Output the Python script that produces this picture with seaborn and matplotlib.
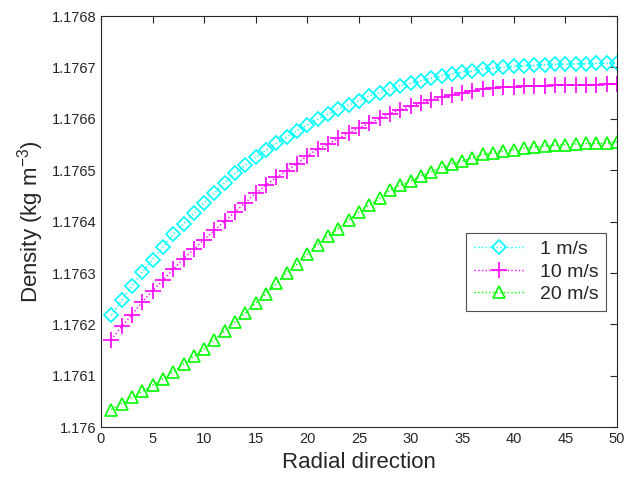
import numpy as np
import pandas as pd
import matplotlib
matplotlib.use("Agg")
import matplotlib.pyplot as plt
import seaborn as sns
from matplotlib.ticker import FuncFormatter

# ================================================
# DATA
# ================================================
radial = list(range(1, 51))

rho_1ms = [0.0002177, 0.000247, 0.000274, 0.000302, 0.000326, 0.000351, 0.000375, 0.000396, 0.000416, 0.000437,
           0.000456, 0.000476, 0.000494, 0.000510, 0.000525, 0.000539, 0.000552, 0.000565, 0.000577, 0.000588,
           0.000599, 0.000609, 0.000619, 0.000627, 0.000635, 0.000645, 0.000651, 0.000658, 0.000664, 0.000669,
           0.000674, 0.000679, 0.000684, 0.000687, 0.000691, 0.000693, 0.000697, 0.000698, 0.000700, 0.000702,
           0.000703, 0.000704, 0.000705, 0.000706, 0.000706, 0.000707, 0.000707, 0.000708, 0.000708, 0.000708]

rho_10ms = [0.000170, 0.000196, 0.000219, 0.000244, 0.000265, 0.000286, 0.000307, 0.000328, 0.000346, 0.000365,
            0.000383, 0.000401, 0.000419, 0.000437, 0.000455, 0.000471, 0.000486, 0.000499, 0.000513, 0.000528,
            0.000541, 0.000551, 0.000562, 0.000572, 0.000582, 0.000591, 0.000601, 0.000610, 0.000617, 0.000624,
            0.000630, 0.000637, 0.000642, 0.000646, 0.000651, 0.000655, 0.000658, 0.000660, 0.000661, 0.000662,
            0.000663, 0.000664, 0.000664, 0.000665, 0.000665, 0.000666, 0.000666, 0.000666, 0.000667, 0.000667]

rho_20ms = [0.0000344, 0.0000461, 0.0000578, 0.0000695, 0.0000817, 0.0000947, 0.0001077, 0.0001226, 0.0001381, 0.0001518,
            0.0001706, 0.0001874, 0.0002049, 0.0002224, 0.0002418, 0.0002601, 0.0002796, 0.0003002, 0.0003171, 0.0003366,
            0.0003554, 0.0003722, 0.0003866, 0.0004027, 0.0004189, 0.000432, 0.000445, 0.000461, 0.000471, 0.000479,
            0.000489, 0.000497, 0.000506, 0.000513, 0.000518, 0.000524, 0.000531, 0.000534, 0.000538, 0.000540,
            0.000543, 0.000545, 0.000547, 0.000549, 0.000550, 0.000551, 0.000552, 0.000552, 0.000553, 0.000555]

base = 1.176
labels = ['1 m/s', '10 m/s', '20 m/s']
colors = ['#00FFFF', '#FF00FF', '#00FF00']
markers = ['D', '+', '^']
msizes = [7, 12, 9]

df = pd.DataFrame({
    'radial': radial * 3,
    'density': [base + v for v in rho_1ms + rho_10ms + rho_20ms],
    'speed': [labels[0]] * 50 + [labels[1]] * 50 + [labels[2]] * 50,
})

# ================================================
# PLOT
# ================================================
sns.set_style("white")
plt.rcParams['font.family'] = ['Liberation Sans', 'DejaVu Sans']
plt.rcParams['mathtext.fontset'] = 'custom'
plt.rcParams['mathtext.rm'] = 'Liberation Sans'
plt.rcParams['mathtext.it'] = 'Liberation Sans:italic'

fig = plt.figure(figsize=(6.27, 4.86), dpi=100)
ax = fig.add_axes([0.161, 0.121, 0.823, 0.846])

for lab, col, mk, ms in zip(labels, colors, markers, msizes):
    sub = df[df['speed'] == lab]
    sns.lineplot(data=sub, x='radial', y='density', ax=ax, color=col,
                 linestyle=':', linewidth=1, marker=mk, markersize=ms,
                 markerfacecolor='none', markeredgecolor=col, markeredgewidth=1.2,
                 label=lab)

ax.set_xlim(0, 50)
ax.set_ylim(1.176, 1.1768)
ax.set_xticks(np.arange(0, 51, 5))
ax.set_yticks(np.arange(1.176, 1.17681, 0.0001))
ax.yaxis.set_major_formatter(FuncFormatter(lambda v, p: '%g' % round(v, 4)))
ax.tick_params(direction='in', length=5, width=0.8, top=True, right=True,
               labelsize=10.5, colors='#262626')
for sp in ax.spines.values():
    sp.set_visible(True)
    sp.set_color('#262626')
    sp.set_linewidth(0.8)

ax.set_xlabel('Radial direction', fontsize=16, color='#262626')
ax.set_ylabel('Density (kg m$^{\\mathrm{-3}}$)', fontsize=16, color='#262626')

leg = ax.legend(loc='center right', bbox_to_anchor=(0.998, 0.378), fontsize=14,
                frameon=True, fancybox=False, edgecolor='#262626',
                handlelength=2.6, borderpad=0.4, labelspacing=0.25)
leg.get_frame().set_linewidth(0.8)

plt.savefig('out.png', dpi=100)
